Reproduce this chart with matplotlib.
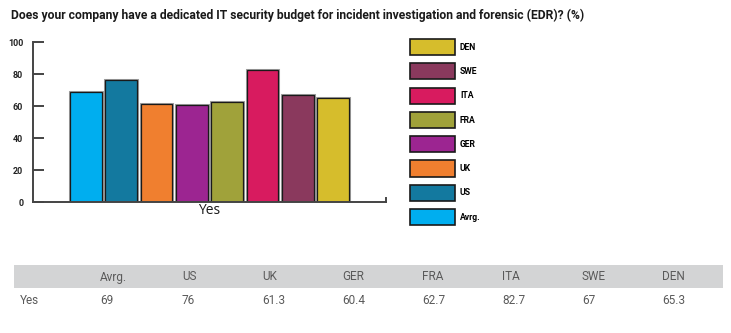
import matplotlib
matplotlib.use("Agg")
import matplotlib.pyplot as plt
import matplotlib.patheffects as pe
from matplotlib.patches import Rectangle, Patch
from matplotlib.lines import Line2D

W, H = 731, 333

# survey answers, % of "Yes" per country
countries = ["Avrg.", "US", "UK", "GER", "FRA", "ITA", "SWE", "DEN"]
yes_values = [69, 76, 61.3, 60.4, 62.7, 82.7, 67, 65.3]
colors = ["#00aeef", "#13799f", "#f07f2f", "#9c2591", "#a0a23a",
          "#d81b5f", "#8a395d", "#d6bd2c"]
yticks = [0, 20, 40, 60, 80, 100]
row_label = "Yes"

title = ("Does your company have a dedicated IT security budget for incident "
         "investigation and forensic (EDR)? (%)")

plt.rcParams["font.family"] = ["Roboto", "DejaVu Sans"]

fig = plt.figure(figsize=(W / 100, H / 100), dpi=100)


def px_box(x0, y0, x1, y1):
    """Pixel box (top-left origin) -> figure fraction rect."""
    return [x0 / W, 1 - y1 / H, (x1 - x0) / W, (y1 - y0) / H]


fig.text(11 / W, 1 - 15 / H, title, fontsize=8.75, fontweight="bold",
         color="#1a1a1a", va="center", ha="left")

# --- bar chart ---
ax = fig.add_axes(px_box(33, 42, 386, 202))
x = list(range(len(countries)))
bars = ax.bar(x, yes_values, width=0.9, color=colors,
              edgecolor="#1a1a1a", linewidth=0.9)
for b in bars:
    b.set_path_effects([pe.Stroke(linewidth=2.2, foreground="#a0a0a0"),
                        pe.Normal()])

ax.set_xlim(-1.5, 8.5)
ax.set_ylim(0, 100)
ax.set_yticks(yticks)
ax.set_yticklabels([str(t) for t in yticks], fontsize=6.5, fontweight="bold",
                   color="#222222")
ax.tick_params(axis="y", direction="in", length=8, width=1.4,
               color="#444444", pad=7)
ax.set_xticks([(len(countries) - 1) / 2])
ax.set_xticklabels([row_label], fontsize=10, family=["Open Sans"],
                   color="#1a1a1a")
ax.tick_params(axis="x", length=0, pad=1)
for side in ("top", "right"):
    ax.spines[side].set_visible(False)
for side in ("left", "bottom"):
    ax.spines[side].set_color("#444444")
    ax.spines[side].set_linewidth(1.4)
# small end cap on the baseline
ax.add_line(Line2D([1, 1], [0, 0.025], transform=ax.transAxes,
                   color="#444444", lw=1.4, clip_on=False))

# --- legend, top entry is the last country ---
handles = [Patch(facecolor=c, edgecolor="#1a1a1a", linewidth=1.2, label=n)
           for n, c in zip(countries, colors)][::-1]
fig.legend(handles=handles, loc="upper left",
           bbox_to_anchor=(410 / W, 1 - 39 / H), frameon=False,
           prop={"size": 6.2, "weight": "bold"}, handlelength=5.2,
           handleheight=2.5, labelspacing=0.95, handletextpad=0.6,
           borderpad=0, borderaxespad=0)

# --- data table ---
fig.patches.append(Rectangle((14 / W, 1 - 288 / H), (723 - 14) / W, 23 / H,
                             transform=fig.transFigure, facecolor="#d3d4d5",
                             edgecolor="none", zorder=0))
col_x = [100, 182, 262, 342, 422, 502, 582, 662]
for cx, name, val in zip(col_x, countries, yes_values):
    fig.text(cx / W, 1 - 277 / H, name, fontsize=8.5, color="#5a5a5a",
             ha="left", va="center")
    fig.text(cx / W, 1 - 300 / H, f"{val:g}", fontsize=8.5, color="#5a5a5a",
             ha="left", va="center")
fig.text(20 / W, 1 - 300 / H, row_label, fontsize=8.5, color="#5a5a5a",
         ha="left", va="center")

fig.savefig("out.png", dpi=100)
